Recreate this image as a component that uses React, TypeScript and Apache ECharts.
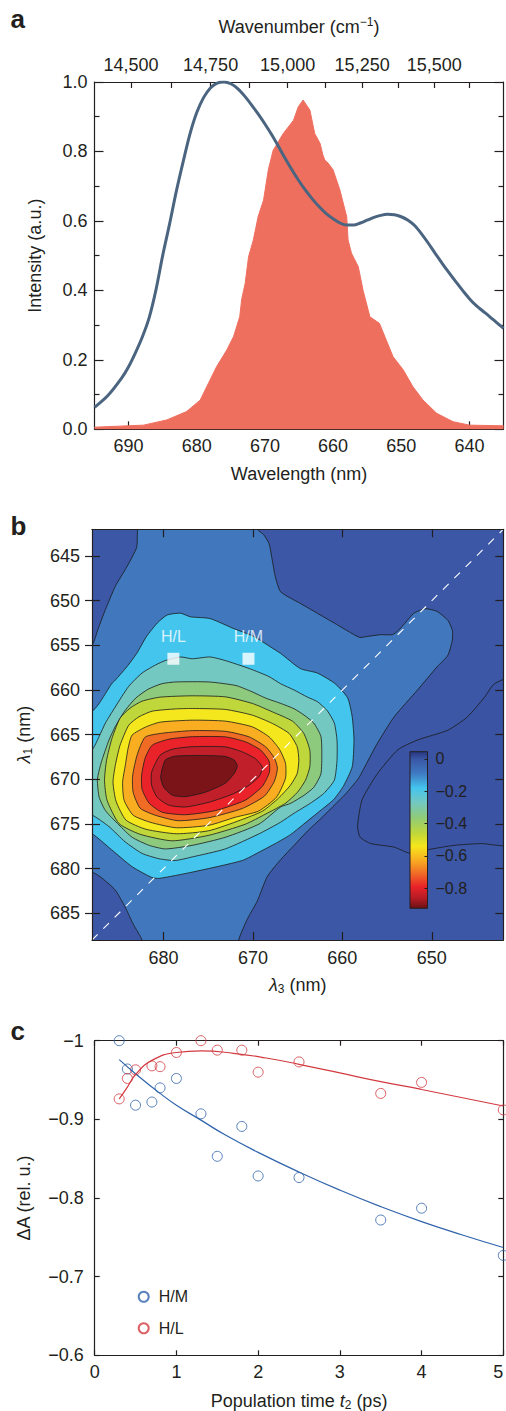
import React, { useEffect, useRef } from "react";
import * as echarts from "echarts";

// ---------------- Panel a ----------------
const absorbanceWavelength = [
  695, 693, 691, 690, 689, 688, 687, 686, 685, 684, 683, 682, 681, 680, 679, 678, 677, 676, 675, 674,
  673, 672, 671, 670, 669, 668, 667, 666, 665, 664, 663, 662, 661, 660, 659, 658, 657, 656, 655, 654,
  653, 652, 651, 650, 649, 648, 647, 646, 645, 644, 643, 642, 641, 640, 639, 638, 637, 636, 635,
];
const absorbanceValue = [
  0.063, 0.098, 0.148, 0.18, 0.22, 0.265, 0.32, 0.4, 0.5, 0.59, 0.685, 0.77, 0.85, 0.912, 0.955, 0.983, 0.997, 1.0, 0.995, 0.981,
  0.96, 0.935, 0.908, 0.879, 0.848, 0.814, 0.779, 0.746, 0.715, 0.687, 0.662, 0.64, 0.621, 0.606, 0.594, 0.588, 0.588, 0.594, 0.602, 0.61,
  0.616, 0.619, 0.618, 0.612, 0.602, 0.586, 0.562, 0.535, 0.506, 0.478, 0.451, 0.425, 0.4, 0.376, 0.356, 0.34, 0.324, 0.307, 0.291,
];
const laserSpectrum: number[][] = [
  [695, 0.006], [687.8, 0.012], [684.4, 0.027], [681.5, 0.051], [679.5, 0.084], [678.3, 0.132],
  [677.1, 0.18], [675.6, 0.228], [674.6, 0.267], [673.7, 0.324], [673.4, 0.375], [672.9, 0.42],
  [672.4, 0.497], [671.7, 0.545], [671.0, 0.612], [670.2, 0.66], [669.5, 0.747], [668.8, 0.803],
  [667.3, 0.852], [665.8, 0.89], [665.1, 0.929], [664.4, 0.948], [663.4, 0.919], [662.7, 0.852],
  [661.9, 0.823], [661.5, 0.79], [661.2, 0.775], [660.7, 0.766], [660.0, 0.747], [659.0, 0.689],
  [658.0, 0.612], [657.8, 0.545], [657.3, 0.507], [656.3, 0.468], [655.6, 0.4], [654.6, 0.324],
  [653.2, 0.305], [652.2, 0.257], [651.2, 0.209], [649.7, 0.171], [648.3, 0.123], [646.8, 0.084],
  [644.8, 0.046], [642.4, 0.022], [640, 0.012], [635, 0.01],
];
const wavelengthTicks = [690, 680, 670, 660, 650, 640];
const wavelengthMinorTicks = [685, 675, 665, 655, 645];
const wavenumberLabels = [14500, 14750, 15000, 15250, 15500];
const wavenumberTicks = [14500, 14625, 14750, 14875, 15000, 15125, 15250, 15375, 15500, 15625];

// ---------------- Panel b ----------------
const lambda3Ticks = [680, 670, 660, 650];
const lambda1Ticks = [645, 650, 655, 660, 665, 670, 675, 680, 685];
const diagonal = [[688, 688], [642, 642]];
const probeLabels = ["H/L", "H/M"];
const probeLambda3 = [678.9, 670.5];
const probeLambda1 = [656.5, 656.5];

// contour polygons [lambda3, lambda1], outermost first
const contourZero = [[641, 658.7], [643.0, 659.3], [644.1, 660.8], [646.0, 663.0], [648.2, 664.5], [651.6, 665.6], [653.8, 666.7], [656.1, 669.4], [657.8, 672.3], [658.3, 675.3], [658.0, 676.5], [656.8, 677.2], [654.2, 677.6], [652.4, 678.3], [650.5, 677.9], [647.5, 677.4], [644.5, 677.2], [641, 677.2]];
const contourM005 = [[682.6, 641], [683.0, 644.0], [684.1, 646.2], [685.4, 648.4], [686.5, 651.0], [687.3, 653.1], [688, 655.0], [689, 655.0], [689, 680.4], [688, 680.4], [687.1, 680.9], [685.4, 682.4], [684.3, 684.3], [683.4, 686.2], [682.4, 688.0], [682.4, 689], [671.6, 689], [671.6, 688.0], [670.7, 685.8], [669.5, 683.6], [668.4, 680.9], [666.9, 679.0], [665.4, 677.4], [663.9, 675.8], [662.4, 674.4], [661.2, 673.2], [659.6, 671.6], [658.2, 669.9], [657.7, 669.0], [656.1, 666.0], [654.2, 663.0], [651.6, 660.0], [649.4, 657.4], [648.2, 656.1], [647.7, 654.4], [647.7, 653.3], [648.2, 652.2], [649.4, 651.2], [650.7, 650.9], [652.0, 651.4], [652.9, 652.4], [653.7, 653.3], [654.4, 653.8], [655.7, 653.8], [657.2, 654.0], [658.1, 654.1], [660.9, 652.5], [662.8, 651.4], [664.7, 650.3], [666.9, 649.0], [667.5, 647.3], [667.9, 645.1], [668.2, 643.6], [668.8, 642.6], [669.5, 642.0], [669.5, 641]];
const contourM015 = [[689, 662.4], [688, 662.4], [687.2, 661.5], [685.8, 659.3], [685.4, 658.9], [684.1, 657.4], [683.0, 655.9], [681.9, 654.0], [680.7, 652.5], [679.6, 651.6], [678.1, 651.4], [677.0, 651.8], [674.8, 652.0], [672.2, 653.1], [669.9, 654.0], [668.0, 655.2], [666.9, 655.9], [664.7, 657.6], [662.8, 658.1], [660.8, 659.3], [659.4, 660.9], [658.9, 663.0], [658.7, 665.6], [658.9, 668.6], [659.9, 670.8], [661.0, 672.3], [662.7, 673.7], [664.3, 675.0], [665.8, 676.2], [667.5, 677.2], [669.2, 678.1], [671.2, 679.1], [676.8, 680.4], [680.5, 681.1], [681.3, 681.0], [683.5, 679.8], [685.8, 677.9], [688, 676.1], [689, 676.1]];
const contourM025 = [[689, 666.7], [688, 666.7], [687.2, 665.2], [686.5, 663.7], [685.4, 661.9], [683.9, 659.6], [682.4, 658.1], [680.9, 657.2], [679.8, 656.7], [678.1, 656.3], [676.8, 656.5], [674.8, 656.3], [673.1, 656.7], [670.4, 657.6], [668.2, 658.5], [666.9, 659.3], [665.4, 660.0], [663.9, 660.8], [662.8, 661.3], [661.7, 662.3], [660.9, 663.7], [660.6, 665.6], [660.6, 667.9], [660.9, 670.1], [662.1, 671.6], [663.6, 672.7], [665.4, 673.8], [666.9, 674.8], [669.3, 676.1], [673.1, 677.8], [676.8, 678.7], [678.7, 679.1], [680.5, 678.9], [682.4, 678.3], [684.3, 677.0], [686.1, 675.3], [688, 674.0], [689, 674.0]];
const contourM033 = [[681.7, 659.9], [680.2, 659.3], [678.7, 659.1], [674.9, 659.1], [671.9, 659.5], [670.1, 660.2], [668.6, 660.9], [666.9, 661.5], [665.4, 662.1], [664.3, 662.8], [663.2, 663.7], [662.4, 665.2], [662.3, 667.1], [662.4, 669.4], [663.2, 670.9], [664.3, 671.8], [665.8, 672.7], [666.9, 673.1], [669.3, 675.0], [673.1, 676.5], [676.8, 677.4], [679.8, 677.8], [681.6, 677.4], [683.5, 676.5], [685.0, 675.1], [686.5, 673.5], [687.2, 672.0], [687.4, 670.1], [687.2, 669.0], [686.9, 667.9], [686.1, 665.6], [685.4, 664.1], [684.3, 662.3], [683.1, 660.9]];
const contourM041 = [[684.86, 663.15], [683.74, 662.03], [682.4, 661.25], [680.38, 660.8], [676.79, 660.65], [673.06, 660.77], [670.06, 661.51], [667.82, 662.45], [665.58, 663.49], [664.31, 664.87], [663.64, 666.74], [663.64, 668.61], [664.12, 670.1], [665.02, 671.45], [666.36, 672.68], [668.61, 673.91], [670.85, 675.03], [674.92, 676.27], [679.03, 676.89], [682.62, 676.16], [684.97, 674.96], [686.32, 672.34], [686.6, 670.1], [686.37, 667.86], [685.76, 665.4]];
const contourM049 = [[683.89, 663.94], [682.76, 663.01], [681.27, 662.37], [678.7, 662.12], [676.79, 662.07], [673.06, 662.18], [670.06, 662.82], [667.82, 663.75], [665.95, 664.87], [665.05, 666.37], [664.87, 667.86], [665.05, 669.35], [665.8, 670.66], [667.15, 672.12], [668.94, 673.57], [671.41, 674.58], [674.92, 675.76], [678.58, 676.1], [681.95, 675.6], [684.19, 674.58], [685.31, 672.46], [685.65, 670.33], [685.39, 668.42], [684.86, 666.18]];
const contourM057 = [[683.52, 665.06], [682.03, 664.16], [680.38, 663.6], [676.79, 663.38], [673.06, 663.49], [670.06, 664.13], [668.19, 665.25], [667.04, 666.63], [666.36, 668.2], [666.36, 669.88], [667.37, 672.01], [669.39, 673.57], [671.97, 674.25], [674.92, 675.15], [678.58, 675.43], [681.5, 674.81], [683.4, 674.02], [684.41, 672.34], [684.58, 670.33], [684.27, 668.42], [683.96, 666.52]];
const contourM065 = [[682.06, 665.28], [680.15, 664.84], [676.79, 664.55], [673.06, 664.63], [670.43, 665.25], [668.57, 666.37], [667.6, 667.63], [667.26, 668.76], [667.6, 670.21], [668.72, 671.89], [671.19, 673.27], [674.92, 674.3], [678.36, 674.64], [680.94, 674.02], [682.62, 673.23], [683.4, 671.45], [683.46, 669.65], [682.96, 667.3]];
const contourM073 = [[681.27, 666.18], [679.4, 665.51], [676.79, 665.23], [673.06, 665.25], [670.81, 665.81], [669.13, 666.74], [668.19, 667.97], [668.16, 669.21], [668.94, 670.78], [670.85, 672.34], [674.21, 673.51], [677.57, 673.97], [680.15, 673.69], [681.61, 672.68], [682.4, 671.11], [682.45, 669.54], [682.06, 667.63]];
const contourM081 = [[680.38, 667.3], [679.03, 666.63], [676.79, 666.35], [673.09, 666.37], [671.19, 666.93], [669.73, 667.69], [668.94, 668.65], [669.28, 669.65], [670.43, 670.66], [672.31, 671.67], [674.92, 672.57], [677.54, 673.1], [679.4, 672.9], [680.71, 672.01], [681.33, 670.66], [681.33, 669.21]];
const contourM088 = [[679.82, 667.86], [678.7, 667.41], [675.89, 667.33], [673.09, 667.44], [672.08, 667.86], [671.75, 668.53], [672.08, 669.32], [673.09, 670.44], [675.33, 671.45], [677.57, 671.95], [679.03, 671.78], [679.98, 670.89], [680.32, 669.76]];

const contourPolygons = [contourZero, contourM005, contourM015, contourM025, contourM033, contourM041, contourM049, contourM057, contourM065, contourM073, contourM081, contourM088];
const contourPalette = ["#3a53a2", "#4077bd", "#44c5ee", "#73c8c2", "#8dca7d", "#bfd73b", "#f4e71d", "#f9ae22", "#f06c25", "#e92329", "#c1202b", "#7a1418"];
const mapBackground = "#3b57a6";

const colorbarMin = -0.925;
const colorbarMax = 0.045;
const colorbarTicks = [0, -0.2, -0.4, -0.6, -0.8];
const colormapValues = [0.045, 0.0, -0.09, -0.18, -0.27, -0.36, -0.46, -0.54, -0.63, -0.71, -0.79, -0.86, -0.925];
const colormapColors = ["#27357f", "#3a56a5", "#3f7ac2", "#44c4ee", "#73c8c1", "#8ecb7b", "#c0d73a", "#f6e61c", "#f8ab22", "#f06b26", "#e92329", "#b81c25", "#6a1013"];

// ---------------- Panel c ----------------
const t2HM = [0.3, 0.4, 0.5, 0.7, 0.8, 1.0, 1.3, 1.5, 1.8, 2.0, 2.5, 3.5, 4.0, 5.0];
const dAHM = [-1.0, -0.964, -0.918, -0.922, -0.94, -0.952, -0.907, -0.853, -0.891, -0.828, -0.826, -0.772, -0.787, -0.727];
const t2HL = [0.3, 0.4, 0.5, 0.7, 0.8, 1.0, 1.3, 1.5, 1.8, 2.0, 2.5, 3.5, 4.0, 5.0];
const dAHL = [-0.926, -0.952, -0.963, -0.968, -0.967, -0.985, -1.0, -0.988, -0.988, -0.96, -0.973, -0.933, -0.947, -0.912];
const fitT_HM = [0.3, 0.5, 0.8, 1.0, 1.3, 1.6, 2.0, 2.5, 3.0, 3.5, 4.0, 4.5, 5.0];
const fitHM = [-0.976, -0.958, -0.933, -0.918, -0.899, -0.88, -0.858, -0.833, -0.81, -0.789, -0.77, -0.753, -0.737];
const fitT_HL = [0.3, 0.4, 0.5, 0.7, 1.0, 1.3, 1.7, 2.1, 2.5, 3.0, 3.5, 4.0, 5.0];
const fitHL = [-0.926, -0.941, -0.957, -0.975, -0.985, -0.987, -0.984, -0.978, -0.97, -0.959, -0.948, -0.938, -0.917];

const FONT = '"Liberation Sans", Arial, Helvetica, sans-serif';
const INK = "#231f20";
const BLUE = "#2f63ab";
const RED = "#d23a40";

function buildOption() {
  const axisLineStyle = { color: INK, width: 1.2 };
  const labelStyle = { fontSize: 18, color: INK, fontFamily: FONT };
  const rich = {
    i: { fontStyle: "italic", fontSize: 18, color: INK, fontFamily: FONT },
    sub: { fontSize: 12, color: INK, fontFamily: FONT, padding: [9, 0, 0, 0] },
    sup: { fontSize: 12, color: INK, fontFamily: FONT, padding: [0, 0, 10, 0] },
  };
  const nameStyle = { fontSize: 18, color: INK, fontFamily: FONT, rich };
  const base = (o: any) => ({
    type: "value",
    splitLine: { show: false },
    axisLine: { show: true, onZero: false, lineStyle: axisLineStyle },
    ...o,
  });
  const fmtNeg = (v: number) => {
    if (Math.abs(v) < 1e-9) return "0";
    if (Math.abs(v + 1) < 1e-9) return "\u22121";
    return "\u2212" + Math.abs(v).toFixed(1);
  };

  const xAxis = [
    // 0 panel a bottom
    base({
      gridIndex: 0, min: 635, max: 695, inverse: true, position: "bottom",
      axisTick: { show: true, inside: true, length: 8, customValues: wavelengthTicks, lineStyle: axisLineStyle },
      axisLabel: { show: true, customValues: wavelengthTicks, margin: 8, ...labelStyle },
      name: "Wavelength (nm)", nameLocation: "middle", nameGap: 36, nameTextStyle: nameStyle,
    }),
    // 1 panel a bottom minor ticks
    base({
      gridIndex: 0, min: 635, max: 695, inverse: true, position: "bottom",
      axisLine: { show: false, onZero: false },
      axisTick: { show: true, inside: true, length: 5, customValues: wavelengthMinorTicks, lineStyle: axisLineStyle },
      axisLabel: { show: false },
    }),
    // 2 panel a top (wavenumber)
    base({
      gridIndex: 0, min: 635, max: 695, inverse: true, position: "top",
      axisTick: { show: true, inside: true, length: 6, customValues: wavenumberTicks.map((w) => 1e7 / w), lineStyle: axisLineStyle },
      axisLabel: {
        show: true, customValues: wavenumberLabels.map((w) => 1e7 / w), margin: 8, ...labelStyle,
        formatter: (v: number) => Math.round(1e7 / v).toLocaleString("en-US"),
      },
      name: "Wavenumber (cm{sup|\u22121})", nameLocation: "middle", nameGap: 44, nameTextStyle: nameStyle,
    }),
    // 3 panel b bottom
    base({
      gridIndex: 1, min: 642, max: 688, inverse: true, position: "bottom", z: 10,
      axisTick: { show: true, inside: true, length: 8, customValues: lambda3Ticks, lineStyle: axisLineStyle },
      axisLabel: { show: true, customValues: lambda3Ticks, margin: 9, ...labelStyle },
      name: "{i|\u03bb}{sub|3} (nm)", nameLocation: "middle", nameGap: 34, nameTextStyle: nameStyle,
    }),
    // 4 panel b top
    base({
      gridIndex: 1, min: 642, max: 688, inverse: true, position: "top", z: 10,
      axisTick: { show: true, inside: true, length: 8, customValues: lambda3Ticks, lineStyle: axisLineStyle },
      axisLabel: { show: false },
    }),
    // 5 panel c bottom
    base({
      gridIndex: 2, min: 0, max: 5, interval: 1, position: "bottom",
      axisTick: { show: true, inside: true, length: 5, lineStyle: axisLineStyle },
      axisLabel: { show: true, margin: 8, alignMaxLabel: "right", ...labelStyle },
      name: "Population time {i|t}{sub|2} (ps)", nameLocation: "middle", nameGap: 35, nameTextStyle: nameStyle,
    }),
    // 6 panel c top
    base({
      gridIndex: 2, min: 0, max: 5, interval: 1, position: "top",
      axisTick: { show: true, inside: true, length: 5, lineStyle: axisLineStyle },
      axisLabel: { show: false },
    }),
    // 7 colorbar
    { type: "value", gridIndex: 3, min: 0, max: 1, show: false },
  ];

  const yAxis = [
    // 0 panel a left
    base({
      gridIndex: 0, min: 0, max: 1, interval: 0.2, position: "left",
      axisTick: { show: true, inside: true, length: 9, lineStyle: axisLineStyle },
      minorTick: { show: true, splitNumber: 2, length: 5, lineStyle: axisLineStyle },
      axisLabel: { show: true, margin: 7, ...labelStyle, formatter: (v: number) => v.toFixed(1) },
      name: "Intensity (a.u.)", nameLocation: "middle", nameGap: 51, nameRotate: 90, nameTextStyle: nameStyle,
    }),
    // 1 panel a right
    base({
      gridIndex: 0, min: 0, max: 1, interval: 0.2, position: "right",
      axisTick: { show: true, inside: true, length: 9, lineStyle: axisLineStyle },
      minorTick: { show: true, splitNumber: 2, length: 5, lineStyle: axisLineStyle },
      axisLabel: { show: false },
    }),
    // 2 panel b left
    base({
      gridIndex: 1, min: 642, max: 688, inverse: true, position: "left", z: 10,
      axisTick: { show: true, inside: true, length: 8, customValues: lambda1Ticks, lineStyle: axisLineStyle },
      axisLabel: { show: true, customValues: lambda1Ticks, margin: 12, ...labelStyle },
      name: "{i|\u03bb}{sub|1} (nm)", nameLocation: "middle", nameGap: 58, nameRotate: 90, nameTextStyle: nameStyle,
    }),
    // 3 panel b right
    base({
      gridIndex: 1, min: 642, max: 688, inverse: true, position: "right", z: 10,
      axisTick: { show: true, inside: true, length: 8, customValues: lambda1Ticks, lineStyle: axisLineStyle },
      axisLabel: { show: false },
    }),
    // 4 panel b left outer ticks
    base({
      gridIndex: 1, min: 642, max: 688, inverse: true, position: "left", z: 10,
      axisLine: { show: false, onZero: false },
      axisTick: { show: true, inside: false, length: 7, customValues: lambda1Ticks, lineStyle: axisLineStyle },
      axisLabel: { show: false },
    }),
    // 5 panel c left
    base({
      gridIndex: 2, min: -1, max: -0.6, interval: 0.1, inverse: true, position: "left",
      axisTick: { show: true, inside: true, length: 5, lineStyle: axisLineStyle },
      axisLabel: { show: true, margin: 11, ...labelStyle, formatter: fmtNeg },
      name: "\u0394A (rel. u.)", nameLocation: "middle", nameGap: 62, nameRotate: 90, nameTextStyle: nameStyle,
    }),
    // 6 panel c right
    base({
      gridIndex: 2, min: -1, max: -0.6, interval: 0.1, inverse: true, position: "right",
      axisTick: { show: true, inside: true, length: 5, lineStyle: axisLineStyle },
      axisLabel: { show: false },
    }),
    // 7 colorbar
    base({
      gridIndex: 3, min: colorbarMin, max: colorbarMax, position: "right", z: 6,
      axisLine: { show: false, onZero: false },
      axisTick: { show: true, inside: true, length: 3, customValues: colorbarTicks, lineStyle: { color: INK, width: 1 } },
      axisLabel: { show: true, customValues: colorbarTicks, margin: 8, fontSize: 16, color: INK, fontFamily: FONT, formatter: fmtNeg },
    }),
  ];

  const series: any[] = [
    {
      name: "laser", type: "line", xAxisIndex: 0, yAxisIndex: 0, data: laserSpectrum,
      symbol: "none", lineStyle: { color: "#ef6f5f", width: 1 },
      areaStyle: { color: "#ef6f5f", opacity: 1 }, z: 2,
    },
    {
      name: "absorption", type: "line", xAxisIndex: 0, yAxisIndex: 0,
      data: absorbanceWavelength.map((w, i) => [w, absorbanceValue[i]]),
      symbol: "none", smooth: 0.3, lineStyle: { color: "#4b6581", width: 3 }, z: 3,
    },
    {
      name: "contours", type: "custom", xAxisIndex: 3, yAxisIndex: 2, clip: true, z: 2,
      data: contourPolygons.map(() => [665, 665]),
      renderItem: (params: any, api: any) => {
        const poly = contourPolygons[params.dataIndex];
        return {
          type: "polygon",
          shape: { points: poly.map((p) => api.coord(p)), smooth: 0.2 },
          style: { fill: contourPalette[params.dataIndex], stroke: "#1b1b1b", lineWidth: 0.8 },
        };
      },
    },
    {
      name: "diagonal", type: "line", xAxisIndex: 3, yAxisIndex: 2, data: diagonal, symbol: "none", z: 3,
      lineStyle: { color: "#ffffff", width: 1.1, type: [8, 8] },
    },
    {
      name: "probes", type: "scatter", xAxisIndex: 3, yAxisIndex: 2, z: 4,
      data: probeLabels.map((n, i) => ({ name: n, value: [probeLambda3[i], probeLambda1[i]] })),
      symbol: "rect", symbolSize: 12, itemStyle: { color: "#ffffff" },
      label: { show: true, position: "top", distance: 8, formatter: "{b}", color: "#ffffff", fontSize: 16, fontFamily: FONT },
    },
    {
      name: "colorbar", type: "custom", xAxisIndex: 7, yAxisIndex: 7, z: 5, data: [[0.5, 0]],
      renderItem: (params: any, api: any) => {
        const top = api.coord([0.5, colorbarMax]);
        const bottom = api.coord([0.5, colorbarMin]);
        const cs = params.coordSys;
        const stops = colormapValues.map((v, i) => ({
          offset: (colorbarMax - v) / (colorbarMax - colorbarMin),
          color: colormapColors[i],
        }));
        return {
          type: "rect",
          shape: { x: cs.x, y: top[1], width: cs.width, height: bottom[1] - top[1] },
          style: { fill: new echarts.graphic.LinearGradient(0, 0, 0, 1, stops), stroke: INK, lineWidth: 1 },
        };
      },
    },
    {
      name: "fit H/M", type: "line", xAxisIndex: 5, yAxisIndex: 5, smooth: true, symbol: "none",
      data: fitT_HM.map((t, i) => [t, fitHM[i]]), lineStyle: { color: BLUE, width: 1.2 },
    },
    {
      name: "fit H/L", type: "line", xAxisIndex: 5, yAxisIndex: 5, smooth: true, symbol: "none",
      data: fitT_HL.map((t, i) => [t, fitHL[i]]), lineStyle: { color: RED, width: 1.2 },
    },
    {
      name: "H/M", type: "scatter", xAxisIndex: 5, yAxisIndex: 5, clip: false, symbol: "circle", symbolSize: 10,
      data: t2HM.map((t, i) => [t, dAHM[i]]),
      itemStyle: { color: "rgba(255,255,255,0)", borderColor: BLUE, borderWidth: 1 },
    },
    {
      name: "H/L", type: "scatter", xAxisIndex: 5, yAxisIndex: 5, clip: false, symbol: "circle", symbolSize: 10,
      data: t2HL.map((t, i) => [t, dAHL[i]]),
      itemStyle: { color: "rgba(255,255,255,0)", borderColor: RED, borderWidth: 1 },
    },
  ];

  const letter = (t: string, y: number) => ({
    type: "text", left: 10.5, top: y,
    style: { text: t, fontSize: 26, fontWeight: "bold", fill: INK, fontFamily: FONT },
  });

  return {
    animation: false,
    backgroundColor: "#ffffff",
    textStyle: { fontFamily: FONT, color: INK },
    grid: [
      { left: 94.5, top: 82, width: 409, height: 347.3, outerBoundsMode: "none" },
      { left: 92, top: 529.3, width: 411.3, height: 410.7, show: true, backgroundColor: mapBackground, borderWidth: 0, outerBoundsMode: "none" },
      { left: 94.7, top: 1040.7, width: 408.6, height: 314.6, outerBoundsMode: "none" },
      { left: 410, top: 751.7, width: 17.5, height: 156.6, outerBoundsMode: "none" },
    ],
    xAxis,
    yAxis,
    legend: {
      data: ["H/M", "H/L"], orient: "vertical", left: 132.7, top: 1283.7, itemWidth: 20, itemHeight: 10,
      itemGap: 15.6, selectedMode: false, textStyle: { fontSize: 16, color: INK, fontFamily: FONT },
    },
    graphic: [letter("a", 6), letter("b", 513), letter("c", 1018)],
    series,
  };
}

export default function App() {
  const ref = useRef<HTMLDivElement>(null);
  useEffect(() => {
    const chart = echarts.init(ref.current!, null, { renderer: "svg" });
    chart.setOption(buildOption() as any);
    return () => chart.dispose();
  }, []);
  return <div ref={ref} style={{ position: "fixed", left: 0, top: 0, width: 506, height: 1411 }} />;
}
